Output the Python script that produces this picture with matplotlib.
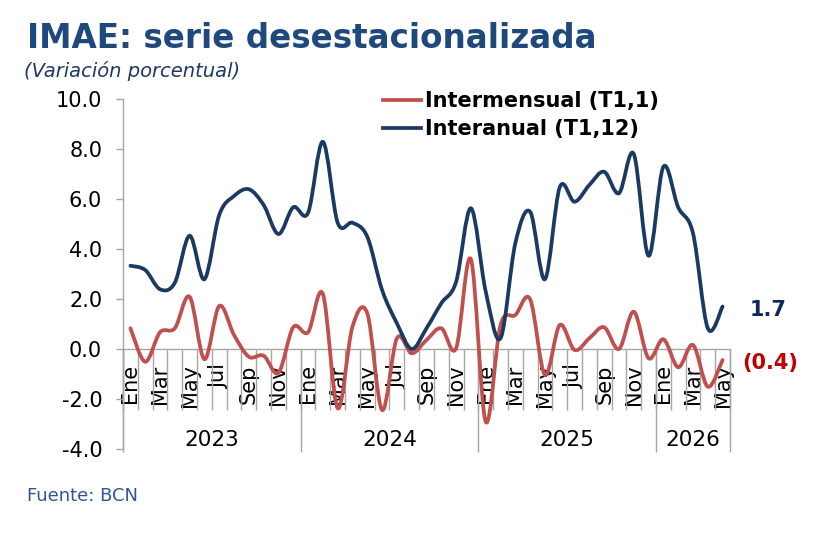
import numpy as np
import matplotlib
matplotlib.use("Agg")
import matplotlib.pyplot as plt
from matplotlib.path import Path
from matplotlib.patches import PathPatch
from matplotlib.lines import Line2D
import matplotlib.transforms as mtransforms

plt.rcParams['font.family'] = ['DejaVu Sans']

years = ["2023", "2024", "2025", "2026"]
months_per_year = [12, 12, 12, 5]
month_names = ["Ene", "Feb", "Mar", "Abr", "May", "Jun",
               "Jul", "Ago", "Sep", "Oct", "Nov", "Dic"]

intermensual = [0.83, -0.51, 0.67, 0.83, 2.09, -0.41, 1.72, 0.56, -0.31, -0.27, -0.95, 0.87,
                0.67, 2.20, -2.37, 0.89, 1.43, -2.44, 0.43, -0.17, 0.36, 0.83, 0.03, 3.59,
                -2.91, 0.96, 1.36, 1.99, -1.04, 0.96, -0.04, 0.43, 0.87, 0.00, 1.49, -0.37,
                0.39, -0.73, 0.16, -1.51, -0.44]
interanual = [3.33, 3.16, 2.39, 2.65, 4.53, 2.79, 5.36, 6.12, 6.39, 5.76, 4.60, 5.67,
              5.45, 8.29, 5.05, 5.05, 4.49, 2.36, 1.03, 0.00, 0.83, 1.83, 2.69, 5.63,
              2.30, 0.43, 4.23, 5.49, 2.79, 6.47, 5.89, 6.56, 7.09, 6.23, 7.80, 3.73,
              7.29, 5.67, 4.63, 0.83, 1.70]

labels_series = ["Intermensual (T1,1)", "Interanual (T1,12)"]
red = "#C0504D"
navy = "#1B3A63"
gray = "#A6A6A6"

month_labels = []
for ny in months_per_year:
    month_labels += month_names[:ny]
n = len(month_labels)
x = np.arange(n)

fig = plt.figure(figsize=(8.26, 5.54), dpi=100)
ax = fig.add_axes([123/826, 105/554, 607/826, 350/554])
ax.set_xlim(-0.5, n - 0.5)
ax.set_ylim(-4, 10)


def smooth_path(xs, ys):
    pts = np.column_stack([xs, ys]).astype(float)
    verts = [pts[0]]
    codes = [Path.MOVETO]
    m = len(pts)
    for i in range(m - 1):
        p0 = pts[i - 1] if i > 0 else pts[i]
        p1 = pts[i]
        p2 = pts[i + 1]
        p3 = pts[i + 2] if i + 2 < m else pts[i + 1]
        c1 = p1 + (p2 - p0) / 6.0
        c2 = p2 - (p3 - p1) / 6.0
        verts += [c1, c2, p2]
        codes += [Path.CURVE4] * 3
    return Path(verts, codes)


for ys, col in [(intermensual, red), (interanual, navy)]:
    patch = PathPatch(smooth_path(x, ys), facecolor='none', edgecolor=col,
                      lw=2.7, capstyle='round', joinstyle='round', zorder=3)
    ax.add_patch(patch)

# spines
for s in ['top', 'right']:
    ax.spines[s].set_visible(False)
ax.spines['bottom'].set_position(('data', 0))
ax.spines['bottom'].set_color(gray)
ax.spines['left'].set_color(gray)
ax.spines['bottom'].set_linewidth(1.0)
ax.spines['left'].set_linewidth(1.0)

yt = np.arange(-4, 10.1, 2)
ax.set_yticks(yt)
ax.set_yticklabels([f"{v:.1f}" for v in yt], fontsize=15)
ax.tick_params(axis='y', direction='out', length=5, width=1, color=gray, pad=10)

show = [i for i in range(n) if i % 2 == 0]
ax.set_xticks(show)
ax.set_xticklabels([month_labels[i] for i in show], rotation=90, fontsize=15)
ax.set_xticks(np.arange(-0.5, n, 1.0), minor=True)
ax.tick_params(axis='x', which='major', length=0, pad=11)
ax.tick_params(axis='x', which='minor', direction='out', length=44, width=1, color=gray)

# year separators and labels
bounds = np.concatenate([[0], np.cumsum(months_per_year)]) - 0.5
ax.vlines(bounds, -4.12, 0, colors=gray, lw=1.0, clip_on=False, zorder=1)
trans = mtransforms.blended_transform_factory(ax.transData, ax.transAxes)
for k, yl in enumerate(years):
    ax.text((bounds[k] + bounds[k + 1]) / 2, 0.026, yl, transform=trans,
            ha='center', va='center', fontsize=15.5)

# legend
handles = [Line2D([], [], color=red, lw=2.7), Line2D([], [], color=navy, lw=2.7)]
leg = ax.legend(handles, labels_series, loc='upper left',
                bbox_to_anchor=(383/826, 1 - 91/554), bbox_transform=fig.transFigure,
                frameon=False, prop={'size': 15, 'weight': 'bold'},
                handlelength=1.8, handletextpad=0.2, borderpad=0, borderaxespad=0,
                labelspacing=0.4)

# end labels
vb = interanual[-1]
vr = intermensual[-1]
ax.annotate(f"{vb:.1f}", xy=(n - 1, vb), xytext=(19.4, -2.2), textcoords='offset points',
            ha='left', va='center', fontsize=15, fontweight='bold', color='#0F2A5A')
lab_r = f"({abs(vr):.1f})" if vr < 0 else f"{vr:.1f}"
ax.annotate(lab_r, xy=(n - 1, vr), xytext=(14.4, -1.9), textcoords='offset points',
            ha='left', va='center', fontsize=15, fontweight='bold', color='#C00000')

# texts
fig.text(27/826, 1 - 48/554, "IMAE: serie desestacionalizada", fontsize=23.5,
         fontweight='bold', color='#1F497D', va='baseline', ha='left')
fig.text(24/826, 1 - 77/554, "(Variación porcentual)", fontsize=14, style='italic',
         color='#1F3864', va='baseline', ha='left')
fig.text(27/826, 1 - 501/554, "Fuente: BCN", fontsize=13, color='#2F5597',
         va='baseline', ha='left')

fig.savefig("out.png", dpi=100)
